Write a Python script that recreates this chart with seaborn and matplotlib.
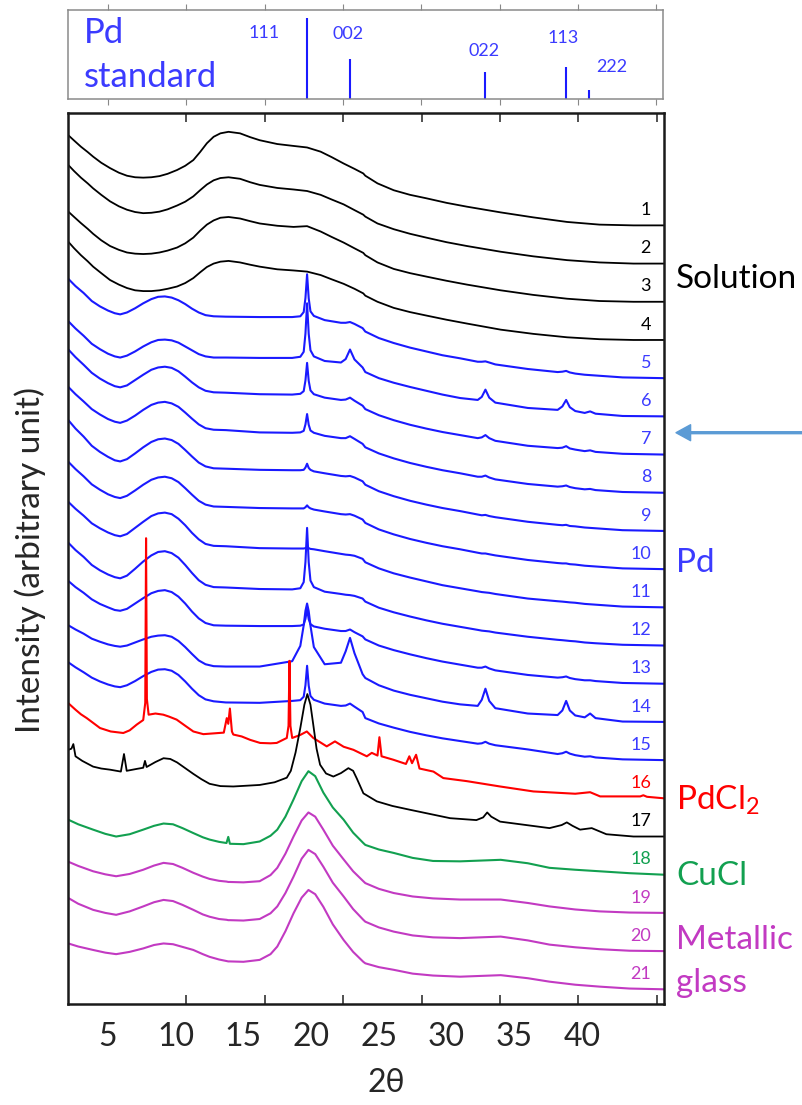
import numpy as np
import pandas as pd
import matplotlib
matplotlib.use('Agg')
import matplotlib.pyplot as plt
import seaborn as sns

# ---- data (2theta in degrees, intensity in stacking steps, relative to each curve's right end) ----

# Pd reference pattern
pd_peaks = [19.68, 22.87, 32.87, 38.83, 40.6]
pd_heights = [0.907, 0.448, 0.309, 0.365, 0.104]
pd_hkl = ['111', '002', '022', '113', '222']

# curves 1-4: solution (black)
x_solution = [2.07, 2.5, 3.0, 3.5, 3.9, 4.5, 5.15, 5.8, 6.4, 7.0, 7.6, 8.2, 8.8, 9.4, 10.1, 10.7,
              11.3, 11.8, 12.3, 12.8, 13.3, 13.9, 14.75, 15.5, 16.2, 17.5, 18.7, 19.7, 20.7, 21.5,
              22.4, 23.2, 23.85, 24.0, 24.9, 26.1, 27.3, 28.5, 30.0, 31.5, 34.0, 36.4, 38.9, 41.3,
              43.8, 46.06]
i_1 = [2.36, 2.22, 2.06, 1.92, 1.80, 1.64, 1.50, 1.38, 1.30, 1.26, 1.25, 1.26, 1.29, 1.35, 1.45, 1.56,
       1.71, 1.92, 2.15, 2.32, 2.41, 2.45, 2.41, 2.31, 2.23, 2.13, 2.08, 2.04, 1.93, 1.79,
       1.62, 1.48, 1.36, 1.30, 1.10, 0.92, 0.80, 0.71, 0.59, 0.49, 0.34, 0.21, 0.09, 0.02, 0.0, 0.0]
i_2 = [2.58, 2.42, 2.25, 2.10, 1.97, 1.80, 1.63, 1.50, 1.41, 1.35, 1.32, 1.33, 1.36, 1.42, 1.52, 1.62,
       1.76, 1.92, 2.07, 2.18, 2.24, 2.26, 2.22, 2.13, 2.06, 1.98, 1.94, 1.90, 1.80, 1.68,
       1.55, 1.40, 1.28, 1.23, 1.05, 0.90, 0.78, 0.68, 0.56, 0.46, 0.31, 0.19, 0.09, 0.03, 0.0, 0.0]
i_3 = [2.36, 2.22, 2.06, 1.91, 1.78, 1.61, 1.46, 1.36, 1.29, 1.26, 1.25, 1.26, 1.29, 1.34, 1.42, 1.53,
       1.68, 1.86, 2.02, 2.13, 2.20, 2.22, 2.18, 2.11, 2.05, 1.99, 1.96, 1.98, 1.84, 1.70,
       1.55, 1.40, 1.28, 1.22, 1.03, 0.86, 0.75, 0.66, 0.55, 0.45, 0.30, 0.18, 0.08, 0.02, 0.0, 0.0]
i_4 = [2.57, 2.40, 2.22, 2.06, 1.92, 1.75, 1.57, 1.45, 1.36, 1.30, 1.28, 1.28, 1.30, 1.34, 1.40, 1.49,
       1.62, 1.77, 1.91, 2.00, 2.05, 2.07, 2.03, 1.97, 1.92, 1.85, 1.82, 1.79, 1.70, 1.59,
       1.47, 1.34, 1.22, 1.16, 1.00, 0.84, 0.73, 0.64, 0.53, 0.43, 0.27, 0.16, 0.07, 0.02, 0.0, 0.0]

# curves 5-15: Pd (blue)
x_pd = [2.07, 2.6, 3.2, 3.8, 4.4, 5.0, 5.5, 5.9, 6.4, 7.0, 7.6, 8.2, 8.7, 9.2, 9.7, 10.2, 10.7, 11.2,
        11.7, 12.2, 12.8, 13.7, 16.2,
        18.6, 19.2, 19.45, 19.58, 19.7, 19.82, 19.95, 20.2, 21.0, 22.2, 22.55, 22.87, 23.2, 23.8, 24.0,
        25.0, 26.1, 27.3, 28.5, 29.7, 31.0,
        32.3, 32.6, 32.87, 33.15, 33.6, 36.0, 38.2, 38.55, 38.83, 39.1, 39.5, 40.2, 40.6, 41.0, 43.0, 46.06]
i_5 = [2.60, 2.41, 2.23, 2.02, 1.88, 1.77, 1.70, 1.67, 1.72, 1.83, 1.96, 2.07, 2.13, 2.14, 2.11, 2.04,
       1.94, 1.82, 1.72, 1.65, 1.62, 1.61, 1.60,
       1.60, 1.62, 1.73, 2.10, 2.72, 2.09, 1.75, 1.63, 1.52, 1.45, 1.45, 1.47, 1.42, 1.31, 1.22,
       1.05, 0.92, 0.80, 0.70, 0.60, 0.52,
       0.43, 0.43, 0.44, 0.41, 0.36, 0.24, 0.16, 0.17, 0.19, 0.15, 0.12, 0.09, 0.08, 0.07, 0.02, 0.0]
i_6 = [2.49, 2.30, 2.11, 1.90, 1.76, 1.64, 1.57, 1.54, 1.59, 1.70, 1.83, 1.94, 2.00, 2.01, 1.99, 1.93,
       1.83, 1.73, 1.63, 1.57, 1.54, 1.54, 1.53,
       1.53, 1.56, 1.69, 2.17, 2.96, 2.16, 1.73, 1.57, 1.45, 1.41, 1.50, 1.75, 1.49, 1.28, 1.16,
       1.00, 0.88, 0.77, 0.67, 0.57, 0.48,
       0.43, 0.51, 0.70, 0.49, 0.36, 0.22, 0.17, 0.26, 0.43, 0.24, 0.14, 0.09, 0.13, 0.07, 0.01, 0.0]
i_7 = [2.75, 2.55, 2.35, 2.14, 1.99, 1.87, 1.79, 1.76, 1.81, 1.95, 2.09, 2.22, 2.28, 2.30, 2.27, 2.18,
       2.04, 1.89, 1.76, 1.67, 1.63, 1.62, 1.58,
       1.57, 1.59, 1.66, 1.94, 2.40, 1.93, 1.68, 1.58, 1.49, 1.43, 1.44, 1.49, 1.41, 1.28, 1.19,
       1.03, 0.90, 0.78, 0.68, 0.59, 0.51,
       0.43, 0.45, 0.51, 0.43, 0.36, 0.23, 0.17, 0.18, 0.22, 0.16, 0.13, 0.09, 0.11, 0.07, 0.02, 0.0]
i_8 = [2.77, 2.58, 2.39, 2.19, 2.05, 1.93, 1.86, 1.83, 1.89, 2.02, 2.17, 2.30, 2.36, 2.38, 2.34, 2.25,
       2.10, 1.94, 1.79, 1.69, 1.65, 1.64, 1.58,
       1.57, 1.58, 1.62, 1.79, 2.06, 1.78, 1.63, 1.57, 1.49, 1.43, 1.43, 1.48, 1.41, 1.28, 1.19,
       1.03, 0.90, 0.78, 0.68, 0.59, 0.51,
       0.42, 0.42, 0.45, 0.40, 0.35, 0.23, 0.16, 0.17, 0.19, 0.15, 0.12, 0.09, 0.10, 0.07, 0.02, 0.0]
i_9 = [2.90, 2.68, 2.47, 2.23, 2.07, 1.94, 1.85, 1.82, 1.88, 2.03, 2.19, 2.33, 2.40, 2.42, 2.38, 2.28,
       2.12, 1.95, 1.79, 1.69, 1.64, 1.63, 1.60,
       1.59, 1.59, 1.60, 1.66, 1.76, 1.65, 1.60, 1.56, 1.51, 1.44, 1.43, 1.44, 1.40, 1.30, 1.21,
       1.04, 0.91, 0.79, 0.69, 0.60, 0.52,
       0.43, 0.41, 0.42, 0.39, 0.36, 0.24, 0.16, 0.15, 0.16, 0.13, 0.12, 0.09, 0.08, 0.07, 0.02, 0.0]
i_10 = [2.81, 2.62, 2.43, 2.22, 2.08, 1.96, 1.89, 1.86, 1.92, 2.06, 2.21, 2.34, 2.40, 2.42, 2.38, 2.28,
        2.12, 1.95, 1.79, 1.69, 1.64, 1.63, 1.60,
        1.59, 1.59, 1.59, 1.62, 1.67, 1.62, 1.59, 1.56, 1.51, 1.44, 1.43, 1.44, 1.40, 1.30, 1.21,
        1.04, 0.91, 0.79, 0.69, 0.60, 0.52,
        0.43, 0.41, 0.41, 0.39, 0.36, 0.24, 0.16, 0.15, 0.15, 0.13, 0.12, 0.09, 0.08, 0.07, 0.02, 0.0]
i_11 = [2.76, 2.58, 2.40, 2.20, 2.07, 1.96, 1.89, 1.86, 1.92, 2.08, 2.24, 2.39, 2.46, 2.48, 2.44, 2.32,
        2.15, 1.95, 1.78, 1.66, 1.61, 1.60, 1.55,
        1.54, 1.54, 1.54, 1.55, 1.57, 1.55, 1.53, 1.52, 1.47, 1.40, 1.38, 1.37, 1.35, 1.27, 1.18,
        1.02, 0.89, 0.78, 0.68, 0.58, 0.50,
        0.42, 0.40, 0.39, 0.38, 0.35, 0.23, 0.16, 0.15, 0.14, 0.13, 0.12, 0.09, 0.08, 0.07, 0.02, 0.0]
i_12 = [2.69, 2.50, 2.32, 2.11, 1.97, 1.86, 1.79, 1.76, 1.83, 2.01, 2.20, 2.36, 2.45, 2.47, 2.42, 2.30,
        2.11, 1.90, 1.71, 1.59, 1.53, 1.52, 1.48,
        1.47, 1.50, 1.66, 2.19, 3.08, 2.18, 1.70, 1.53, 1.41, 1.35, 1.33, 1.32, 1.30, 1.23, 1.15,
        0.99, 0.87, 0.76, 0.66, 0.57, 0.49,
        0.41, 0.39, 0.38, 0.37, 0.34, 0.23, 0.15, 0.14, 0.13, 0.12, 0.11, 0.08, 0.07, 0.06, 0.02, 0.0]
i_13 = [2.69, 2.53, 2.38, 2.21, 2.09, 2.00, 1.93, 1.91, 1.96, 2.10, 2.24, 2.37, 2.43, 2.45, 2.40, 2.28,
        2.10, 1.89, 1.71, 1.59, 1.53, 1.52, 1.51,
        1.51, 1.52, 1.55, 1.70, 1.95, 1.69, 1.56, 1.50, 1.44, 1.38, 1.38, 1.42, 1.35, 1.24, 1.16,
        1.00, 0.88, 0.77, 0.67, 0.58, 0.50,
        0.42, 0.42, 0.45, 0.40, 0.35, 0.23, 0.16, 0.17, 0.19, 0.15, 0.12, 0.09, 0.09, 0.07, 0.02, 0.0]
i_14 = [2.53, 2.42, 2.31, 2.18, 2.10, 2.03, 1.99, 1.97, 2.00, 2.08, 2.16, 2.23, 2.26, 2.27, 2.23, 2.12,
        1.96, 1.78, 1.61, 1.51, 1.46, 1.45, 1.45,
        1.59, 1.99, 2.53, 2.91, 3.10, 2.90, 2.52, 1.96, 1.51, 1.55, 1.85, 2.20, 1.80, 1.25, 1.15,
        0.96, 0.82, 0.71, 0.62, 0.53, 0.46,
        0.42, 0.58, 0.87, 0.55, 0.36, 0.22, 0.18, 0.30, 0.55, 0.30, 0.17, 0.12, 0.22, 0.10, 0.01, 0.0]
i_15 = [2.56, 2.43, 2.30, 2.16, 2.06, 1.98, 1.93, 1.91, 1.96, 2.07, 2.20, 2.31, 2.37, 2.38, 2.34, 2.23,
        2.06, 1.87, 1.70, 1.59, 1.54, 1.51, 1.50,
        1.55, 1.57, 1.66, 1.96, 2.47, 1.95, 1.68, 1.58, 1.48, 1.42, 1.43, 1.48, 1.40, 1.26, 1.10,
        0.96, 0.85, 0.74, 0.65, 0.57, 0.50,
        0.43, 0.44, 0.48, 0.43, 0.39, 0.28, 0.16, 0.18, 0.22, 0.17, 0.13, 0.09, 0.10, 0.07, 0.02, 0.0]

# curve 16: PdCl2 (red)
x_16 = [2.07, 2.6, 3.0, 3.43, 4.41, 5.2, 6.13, 6.6, 7.12, 7.6, 7.75, 7.81, 7.87, 8.0, 8.5, 9.08, 9.5,
        10.07, 10.7, 11.3, 12.04, 12.8, 13.55, 13.77, 13.88, 14.0, 14.15, 14.25, 14.87, 15.5, 16.23,
        17.0, 17.46, 18.2, 18.33, 18.4, 18.47, 18.6, 19.2, 19.68, 20.16, 21.15, 21.76, 22.4, 23.12,
        24.11, 24.48, 24.9, 25.04, 25.2, 26.07, 27.0, 27.25, 27.45, 27.75, 28.0, 29.03, 29.76, 31.49,
        33.95, 36.41, 39.5, 40.6, 41.34, 44.3, 44.53, 44.8, 46.06]
i_16 = [2.49, 2.32, 2.20, 2.10, 1.84, 1.75, 1.71, 1.78, 1.93, 2.05, 2.50, 6.81, 2.60, 2.19, 2.22, 2.19,
        2.14, 2.06, 1.90, 1.75, 1.68, 1.70, 1.72, 2.10, 1.95, 2.35, 1.75, 1.67, 1.62, 1.53, 1.45,
        1.44, 1.45, 1.58, 1.90, 3.60, 1.90, 1.58, 1.66, 1.75, 1.58, 1.36, 1.49, 1.35, 1.27,
        1.10, 1.19, 1.12, 1.60, 1.10, 1.01, 0.90, 1.10, 0.92, 1.14, 0.78, 0.70, 0.53, 0.45,
        0.31, 0.18, 0.12, 0.16, 0.05, 0.05, 0.08, 0.04, 0.0]

# curve 17 (black)
x_17 = [2.07, 2.3, 2.44, 2.6, 3.1, 3.9, 4.5, 5.15, 5.95, 6.18, 6.38, 7.12, 7.6, 7.73, 7.85, 8.5, 9.1,
        9.6, 10.1, 10.7, 11.3, 11.9, 12.5, 13.3, 14.25, 16.2, 17.3, 18.2, 18.5, 18.85, 19.2, 19.5,
        19.72, 19.95, 20.16, 20.4, 20.66, 21.1, 21.64, 22.2, 22.75, 23.1, 23.37, 23.86, 24.85, 26.0,
        27.3, 30.26, 32.2, 32.7, 33.0, 33.3, 33.95, 37.6, 38.5, 38.88, 39.3, 39.86, 40.72, 41.8,
        43.8, 46.06]
i_17 = [2.27, 2.30, 2.42, 2.10, 1.98, 1.83, 1.78, 1.75, 1.70, 2.16, 1.72, 1.77, 1.80, 1.98, 1.82, 1.95,
        2.05, 2.03, 1.94, 1.79, 1.64, 1.50, 1.38, 1.32, 1.31, 1.35, 1.42, 1.54, 1.72, 2.20, 2.84,
        3.45, 3.73, 3.45, 2.92, 2.30, 1.88, 1.65, 1.57, 1.66, 1.79, 1.72, 1.52, 1.13, 0.92, 0.80,
        0.70, 0.48, 0.43, 0.50, 0.63, 0.52, 0.39, 0.22, 0.30, 0.37, 0.28, 0.18, 0.22, 0.06,
        0.0, 0.0]

# curves 18 (CuCl, green) and 19-21 (metallic glass, magenta)
x_glass = [2.07, 2.8, 3.9, 4.8, 5.6, 6.6, 7.6, 8.4, 9.1, 9.8, 10.5, 11.3, 12.0, 12.5, 13.2, 13.75,
           13.88, 14.0, 15.0, 16.2, 17.0, 17.5, 18.1, 18.7, 19.3, 19.8, 20.3, 20.9, 21.6, 22.4, 23.1,
           23.85, 24.0, 25.0, 26.1, 27.5, 29.0, 31.0, 32.5, 34.0, 36.0, 37.6, 39.5, 41.3, 43.5, 46.06]
i_18 = [1.44, 1.32, 1.18, 1.07, 1.00, 1.06, 1.18, 1.28, 1.34, 1.32, 1.22, 1.09, 0.98, 0.92, 0.86, 0.83,
        0.99, 0.81, 0.80, 0.87, 1.02, 1.18, 1.52, 1.97, 2.45, 2.71, 2.58, 2.15, 1.76, 1.44, 1.10,
        0.83, 0.78, 0.66, 0.57, 0.44, 0.36, 0.35, 0.37, 0.39, 0.30, 0.18, 0.13, 0.09, 0.04, 0.0]
i_19 = [1.34, 1.23, 1.09, 1.01, 0.96, 1.02, 1.13, 1.24, 1.31, 1.28, 1.18, 1.05, 0.95, 0.89, 0.84, 0.82,
        0.81, 0.81, 0.80, 0.83, 0.99, 1.18, 1.55, 2.00, 2.42, 2.63, 2.52, 2.18, 1.76, 1.40, 1.09,
        0.83, 0.78, 0.63, 0.52, 0.43, 0.38, 0.35, 0.35, 0.35, 0.26, 0.17, 0.09, 0.04, 0.01, 0.0]
i_20 = [1.39, 1.24, 1.08, 1.00, 0.95, 1.04, 1.17, 1.28, 1.34, 1.31, 1.21, 1.08, 0.96, 0.90, 0.84, 0.82,
        0.81, 0.81, 0.80, 0.84, 0.99, 1.17, 1.52, 1.95, 2.42, 2.65, 2.54, 2.21, 1.79, 1.43, 1.10,
        0.82, 0.77, 0.62, 0.51, 0.41, 0.36, 0.34, 0.36, 0.38, 0.28, 0.17, 0.10, 0.05, 0.01, 0.0]
i_21 = [1.20, 1.12, 1.03, 0.96, 0.92, 0.98, 1.07, 1.16, 1.20, 1.18, 1.11, 1.03, 0.92, 0.85, 0.78, 0.74,
        0.73, 0.73, 0.72, 0.77, 0.92, 1.12, 1.52, 1.99, 2.40, 2.60, 2.49, 2.16, 1.70, 1.29, 0.98,
        0.72, 0.68, 0.58, 0.51, 0.41, 0.36, 0.33, 0.35, 0.37, 0.29, 0.20, 0.12, 0.07, 0.02, 0.0]

tick_values = [5, 10, 15, 20, 25, 30, 35, 40]

BLACK, BLUE, RED, GREEN, MAGENTA = '#000000', '#1a1aff', '#ff0000', '#12a050', '#c23ac2'
BLUE_TXT = '#3b3bff'

curves = [
    (x_solution, i_1, BLACK, BLACK), (x_solution, i_2, BLACK, BLACK),
    (x_solution, i_3, BLACK, BLACK), (x_solution, i_4, BLACK, BLACK),
    (x_pd, i_5, BLUE, BLUE_TXT), (x_pd, i_6, BLUE, BLUE_TXT), (x_pd, i_7, BLUE, BLUE_TXT),
    (x_pd, i_8, BLUE, BLUE_TXT), (x_pd, i_9, BLUE, BLUE_TXT), (x_pd, i_10, BLUE, BLUE_TXT),
    (x_pd, i_11, BLUE, BLUE_TXT), (x_pd, i_12, BLUE, BLUE_TXT), (x_pd, i_13, BLUE, BLUE_TXT),
    (x_pd, i_14, BLUE, BLUE_TXT), (x_pd, i_15, BLUE, BLUE_TXT),
    (x_16, i_16, RED, RED), (x_17, i_17, BLACK, BLACK),
    (x_glass, i_18, GREEN, GREEN), (x_glass, i_19, MAGENTA, MAGENTA),
    (x_glass, i_20, MAGENTA, MAGENTA), (x_glass, i_21, MAGENTA, MAGENTA),
]

# ---- style ----
sns.set_style('white')
plt.rcParams['font.family'] = ['Lato', 'DejaVu Sans']
plt.rcParams['mathtext.default'] = 'regular'

fig = plt.figure(figsize=(8.02, 11.05), dpi=100)
ax = fig.add_axes([0.0852, 0.0914, 0.7428, 0.8066])
ax_top = fig.add_axes([0.0852, 0.9101, 0.7419, 0.0808])

XMIN, XMAX = 2.07, 46.06
frame_ticks = [5.0, 10.79, 16.58, 22.37, 28.16, 33.95, 39.74, 45.53]

# ---- stacked patterns ----
n_curves = len(curves)
for n, (x, y, color, txt_color) in enumerate(curves, start=1):
    offset = n_curves - n
    df = pd.DataFrame({'two_theta': x, 'intensity': np.asarray(y) + offset})
    lw = 1.3 if color == BLACK else 1.5
    sns.lineplot(data=df, x='two_theta', y='intensity', ax=ax, color=color, lw=lw,
                 estimator=None, sort=False)
    ax.text(45.1, offset + 0.27, str(n), ha='right', va='baseline', color=txt_color, fontsize=13)

ax.set_xlim(XMIN, XMAX)
ax.set_ylim(-0.385, 22.95)
ax.set_xlabel('')
ax.set_ylabel('')
ax.set_yticks([])
ax.set_xticks(tick_values)
ax.set_xticklabels([str(v) for v in tick_values])
ax.set_xticks(frame_ticks, minor=True)
ax.tick_params(axis='x', which='major', length=0, pad=13, labelsize=23, bottom=True, top=False)
ax.tick_params(axis='x', which='minor', direction='in', length=6.5, width=1.1, color='#222222',
               bottom=True, top=True)
for s in ax.spines.values():
    s.set_color('#1a1a1a')
    s.set_linewidth(1.8)

# group labels on the right
ytr = ax.get_yaxis_transform()
ax.text(1.02, 18.35, 'Solution', transform=ytr, color=BLACK, fontsize=24, va='baseline', clip_on=False)
ax.text(1.02, 10.93, 'Pd', transform=ytr, color=BLUE_TXT, fontsize=24, va='baseline', clip_on=False)
ax.text(1.02, 4.69, 'PdCl$_2$', transform=ytr, color=RED, fontsize=24, va='baseline', clip_on=False)
ax.text(1.02, 2.73, 'CuCl', transform=ytr, color=GREEN, fontsize=24, va='baseline', clip_on=False)
ax.text(1.02, 1.05, 'Metallic', transform=ytr, color=MAGENTA, fontsize=24, va='baseline', clip_on=False)
ax.text(1.02, -0.06, 'glass', transform=ytr, color=MAGENTA, fontsize=24, va='baseline', clip_on=False)

# arrow pointing at curve 7
fig.add_artist(plt.Annotation('', xy=(676, 672.3), xycoords='figure pixels',
                              xytext=(802, 672.3), textcoords='figure pixels',
                              arrowprops=dict(facecolor='#5b9bd5', edgecolor='#5b9bd5',
                                              width=1.4, headwidth=11.5, headlength=10.5, shrink=0)))

# ---- Pd standard panel ----
ax_top.vlines(pd_peaks, 0, pd_heights, color='#1a1aff', lw=1.5)
hkl_pos = [(16.52, 0.747), (22.73, 0.731), (32.77, 0.541), (38.68, 0.683), (42.27, 0.365)]
for label, (hx, hy) in zip(pd_hkl, hkl_pos):
    ax_top.text(hx, hy, label, ha='center', va='center', color=BLUE_TXT, fontsize=13)
ax_top.text(3.2, 0.742, 'Pd', ha='left', va='center', color=BLUE_TXT, fontsize=25)
ax_top.text(3.2, 0.253, 'standard', ha='left', va='center', color=BLUE_TXT, fontsize=25)
ax_top.set_xlim(XMIN, XMAX)
ax_top.set_ylim(0, 1)
ax_top.set_yticks([])
ax_top.set_xticks([])
ax_top.set_xticks(frame_ticks, minor=True)
ax_top.tick_params(axis='x', which='minor', direction='out', length=4, width=0.8, color='#888888',
                   bottom=True, top=True, labelbottom=False)
for s in ax_top.spines.values():
    s.set_color('#8a8a8a')
    s.set_linewidth(1.1)

# axis titles
fig.text(30 / 802, 1 - 560 / 1105, 'Intensity (arbitrary unit)', rotation=90, ha='center', va='center',
         fontsize=24)
fig.text(386 / 802, 1 - 1083 / 1105, '2θ', ha='center', va='center', fontsize=23)

fig.savefig('out.png', dpi=100)
